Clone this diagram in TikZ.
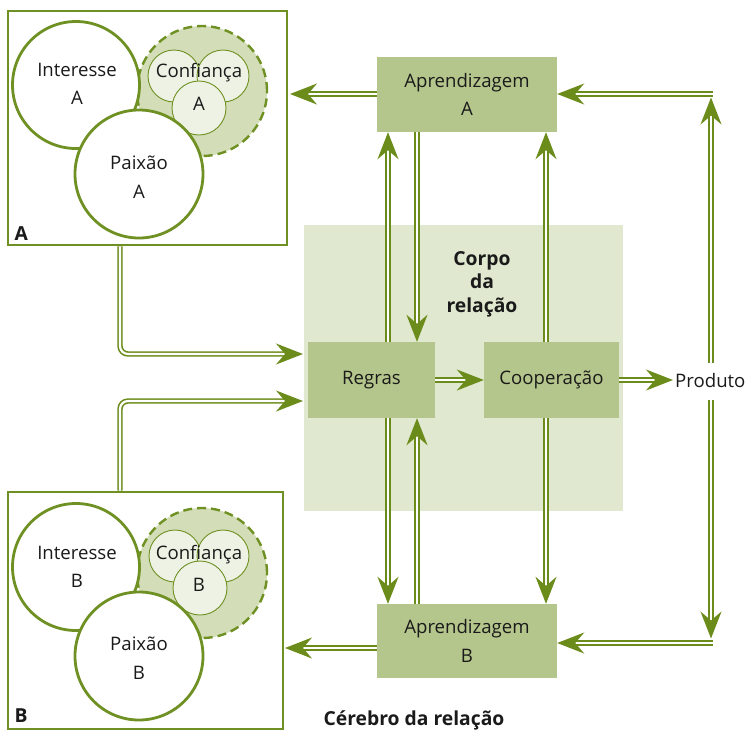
\documentclass[tikz,border=0pt]{standalone}
\usepackage{fontspec}
\setmainfont{Open Sans}
\usetikzlibrary{arrows.meta,calc}
\definecolor{olive}{HTML}{6B8C1A}
\definecolor{rim}{HTML}{6F9022}
\definecolor{boxfill}{HTML}{B5C68C}
\definecolor{bodyfill}{HTML}{E0E8CF}
\definecolor{trustfill}{HTML}{D3DEB8}
\definecolor{seedfill}{HTML}{EEF2E4}
\definecolor{ink}{HTML}{1A1A1A}
\begin{document}
\begin{tikzpicture}[x=1pt,y=-1pt,
  txt/.style={font=\fontsize{18.6}{28.5}\selectfont, text=ink, align=center},
  btxt/.style={font=\bfseries\fontsize{19.3}{23.5}\selectfont, text=ink, align=center},
  frame/.style={draw=rim, line width=2.8pt, fill=white, inner sep=0pt},
  bigc/.style={circle, draw=rim, line width=2.8pt, fill=white, inner sep=0pt, minimum size=#1},
  trust/.style={circle, draw=rim, line width=2.4pt, dashed, dash pattern=on 9pt off 5pt, fill=trustfill, inner sep=0pt, minimum size=#1},
  seed/.style={circle, draw=rim, line width=0.9pt, fill=seedfill, inner sep=0pt, minimum size=#1},
  stage/.style={fill=boxfill, inner sep=0pt, txt},
  dbl/.style={draw=olive, line width=1.6pt, double=white, double distance=2.2pt,
    -{Stealth[length=27pt, width=21pt, inset=9pt]}}]

\useasboundingbox (0,0) rectangle (747,732);

% central body of the relationship
\node[fill=bodyfill, minimum width=319pt, minimum height=286pt, inner sep=0pt] (body) at (463.5,368) {};
\node[btxt] (bodylbl) at (482,284) {Corpo\\da\\relação};

% partner A
\node[frame, minimum width=279pt, minimum height=234pt] (boxA) at (147.5,128) {};
\node[trust=130pt] (trA) at (202,91) {};
\node[seed=52pt] (sA1) at (174,76) {};
\node[seed=52pt] (sA2) at (223,76) {};
\node[seed=54pt] (sA3) at (199,108) {};
\node[txt] at (199,73) {Confiança};
\node[txt] at (199,104) {A};
\node[bigc=127pt] (intA) at (76,85) {};
\node[txt] at (77,84) {Interesse\\A};
\node[bigc=128pt] (paxA) at (139,174) {};
\node[txt] at (139,177) {Paixão\\A};
\node[btxt, anchor=base west] (lblA) at (11,240) {A};

% partner B
\node[frame, minimum width=275pt, minimum height=237pt] (boxB) at (145.5,610.5) {};
\node[trust=130pt] (trB) at (202,573) {};
\node[seed=52pt] (sB1) at (175,556) {};
\node[seed=52pt] (sB2) at (223,556) {};
\node[seed=54pt] (sB3) at (200,588) {};
\node[txt] at (199,555) {Confiança};
\node[txt] at (199,585) {B};
\node[bigc=127pt] (intB) at (76,567) {};
\node[txt] at (77,567) {Interesse\\B};
\node[bigc=128pt] (paxB) at (139,656) {};
\node[txt] at (139,658) {Paixão\\B};
\node[btxt, anchor=base west] (lblB) at (11,722) {B};

% stages
\node[stage, minimum width=180pt, minimum height=75pt] (aprA) at (467,94.5) {Aprendizagem\\A};
\node[stage, minimum width=180pt, minimum height=74pt] (aprB) at (467,641) {Aprendizagem\\B};
\node[stage, minimum width=127pt, minimum height=76pt] (regras) at (371.5,380) {Regras};
\node[stage, minimum width=135pt, minimum height=76pt] (coop) at (551.5,380) {Cooperação};
\node[txt, anchor=west, inner sep=2pt] (prod) at (673,381) {Produto};
\node[btxt] (brain) at (414,720) {Cérebro da relação};

% column and row guides for connectors
\coordinate (cl) at (388,0);
\coordinate (cr) at (417,0);
\coordinate (cc) at (546,0);
\coordinate (cp) at (711,0);
\coordinate (cAx) at (120,0);
\coordinate (topturn) at (711,94);
\coordinate (botturn) at (711,643);
\coordinate (inA) at (303,354);
\coordinate (inB) at (303,401);

% learning flows back to the partners
\draw[dbl] (aprA.west |- 0,94) -- (290,94);
\draw[dbl] (aprB.west |- 0,648) -- (285,648);

% product feeds learning
\draw[dbl] (cp |- 0,363) -- ($(topturn)+(0,3.5)$);
\draw[dbl] ($(topturn)+(1.5,0)$) -- (aprA.east |- topturn);
\draw[dbl] (cp |- 0,400) -- ($(botturn)+(0,-4.5)$);
\draw[dbl] ($(botturn)+(1.5,0)$) -- (aprB.east |- botturn);

% between learning A and the rules / cooperation
\draw[dbl] (cl |- regras.north) -- (cl |- aprA.south);
\draw[dbl] (cr |- aprA.south) -- (cr |- regras.north);
\draw[dbl] (cc |- coop.north) -- (cc |- aprA.south);

% between the rules / cooperation and learning B
\draw[dbl] (cl |- regras.south) -- (cl |- aprB.north);
\draw[dbl] (cr |- aprB.north) -- (cr |- regras.south);
\draw[dbl] (cc |- coop.south) -- (cc |- aprB.north);

% main line
\draw[dbl] (regras.east |- 0,380) -- (coop.west |- 0,380);
\draw[dbl] (coop.east |- 0,380) -- (prod.west |- 0,380);

% partners enter the body
\draw[dbl, rounded corners=8pt] (cAx |- boxA.south) -- (cAx |- inA) -- (inA);
\draw[dbl, rounded corners=8pt] (cAx |- boxB.north) -- (cAx |- inB) -- (inB);
\end{tikzpicture}
\end{document}
